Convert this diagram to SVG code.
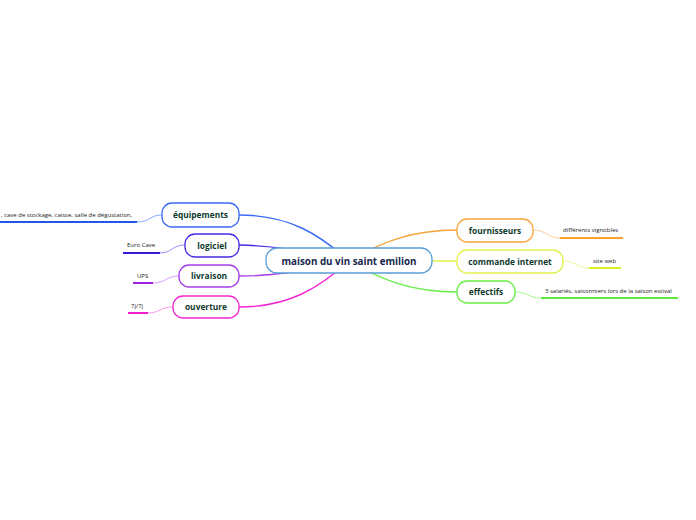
<svg xmlns="http://www.w3.org/2000/svg" width="696" height="520" viewBox="0 0 696 520">
<style>
  .node rect { fill: #ffffff; stroke-width: 1.3; }
  .lbl { font-family: "Open Sans", "Noto Sans", sans-serif; font-weight: bold; font-size: 8.4px; fill: #0f3a2c; text-anchor: middle; }
  .center-lbl { font-family: "Open Sans", "Noto Sans", sans-serif; font-weight: bold; font-size: 9.8px; fill: #16284e; text-anchor: middle; }
  .leaf { font-family: "Open Sans", "Noto Sans", sans-serif; font-size: 6px; fill: #222222; }
  .main { fill: none; stroke-width: 1.4; }
  .sub { fill: none; stroke-width: 1; }
  .ul { fill: none; stroke-width: 2; }
</style>
<rect width="696" height="520" fill="#ffffff"/>
<g id="connectors">
  <path class="main" d="M239,215 C290,215 320,235 349,261" stroke="#3a6cf4"/>
  <path class="main" d="M239,245 C290,246 320,256 349,261" stroke="#4a2ae6"/>
  <path class="main" d="M239,276 C290,276 320,266 349,261" stroke="#a63cea"/>
  <path class="main" d="M239,307 C290,307 320,287 349,261" stroke="#f426d2"/>
  <path class="main" d="M349,261 C385,240 415,230 457,230" stroke="#f8a43a"/>
  <path class="main" d="M349,261 L457,261" stroke="#e2f24a"/>
  <path class="main" d="M349,261 C385,282 415,292 457,292" stroke="#66ee44"/>
  <path class="sub" d="M137,222 C150,222 150,215 162,215" stroke="#88aaff"/>
  <path class="sub" d="M160,253 C172,253 172,245 185,245" stroke="#9c8cff"/>
  <path class="sub" d="M153,283 C166,283 166,276 179,276" stroke="#d49cf6"/>
  <path class="sub" d="M148,313 C160,313 160,307 173,307" stroke="#ff99ea"/>
  <path class="sub" d="M533,230 C547,230 547,238 560,238" stroke="#fbcf8e"/>
  <path class="sub" d="M563,261 C576,261 576,268 589,268" stroke="#eef89a"/>
  <path class="sub" d="M515,292 C528,292 528,298 541,298" stroke="#aaf590"/>
  <path class="ul" d="M0,222 L137,222" stroke="#2156e8"/>
  <path class="ul" d="M123,253 L160,253" stroke="#3a18d8"/>
  <path class="ul" d="M133,283 L153,283" stroke="#9a22e0"/>
  <path class="ul" d="M128,313 L148,313" stroke="#f21ccc"/>
  <path class="ul" d="M560,238 L623,238" stroke="#f8a030"/>
  <path class="ul" d="M589,268 L621,268" stroke="#d8f020"/>
  <path class="ul" d="M541,298 L678,298" stroke="#5ee83a"/>
</g>
<g id="n-center" class="node">
  <rect x="266" y="248" width="166" height="25" rx="11" stroke="#5a9fd6"/>
  <text class="center-lbl" x="349" y="264.5">maison du vin saint emilion</text>
</g>
<g id="n-equipements" class="node">
  <rect x="162" y="203" width="77" height="24" rx="10" stroke="#3a6cf4"/>
  <text class="lbl" x="200.5" y="218">équipements</text>
</g>
<g id="n-logiciel" class="node">
  <rect x="185" y="234" width="54" height="23" rx="10" stroke="#4a2ae6"/>
  <text class="lbl" x="212" y="248.5">logiciel</text>
</g>
<g id="n-livraison" class="node">
  <rect x="179" y="265" width="60" height="22" rx="10" stroke="#a63cea"/>
  <text class="lbl" x="209" y="279">livraison</text>
</g>
<g id="n-ouverture" class="node">
  <rect x="173" y="296" width="66" height="22" rx="10" stroke="#f426d2"/>
  <text class="lbl" x="206" y="310">ouverture</text>
</g>
<g id="n-fournisseurs" class="node">
  <rect x="457" y="219" width="76" height="23" rx="10" stroke="#f8a43a"/>
  <text class="lbl" x="495" y="233.5">fournisseurs</text>
</g>
<g id="n-commande" class="node">
  <rect x="457" y="250" width="106" height="23" rx="10" stroke="#e2f24a"/>
  <text class="lbl" x="510" y="264.5">commande internet</text>
</g>
<g id="n-effectifs" class="node">
  <rect x="457" y="281" width="58" height="22" rx="10" stroke="#66ee44"/>
  <text class="lbl" x="486" y="295">effectifs</text>
</g>
<g id="leaf-equipements">
  <text class="leaf" x="1" y="217" textLength="131" lengthAdjust="spacingAndGlyphs">, cave de stockage, caisse, salle de dégustation,</text>
</g>
<g id="leaf-logiciel">
  <text class="leaf" x="127" y="247">Euro Cave</text>
</g>
<g id="leaf-livraison">
  <text class="leaf" x="137" y="278">UPS</text>
</g>
<g id="leaf-ouverture">
  <text class="leaf" x="131" y="308">7j/7j</text>
</g>
<g id="leaf-fournisseurs">
  <text class="leaf" x="563" y="232">différents vignobles</text>
</g>
<g id="leaf-commande">
  <text class="leaf" x="593" y="263">site web</text>
</g>
<g id="leaf-effectifs">
  <text class="leaf" x="545" y="293">3 salariés, saisonniers lors de la saison estival</text>
</g>
</svg>
